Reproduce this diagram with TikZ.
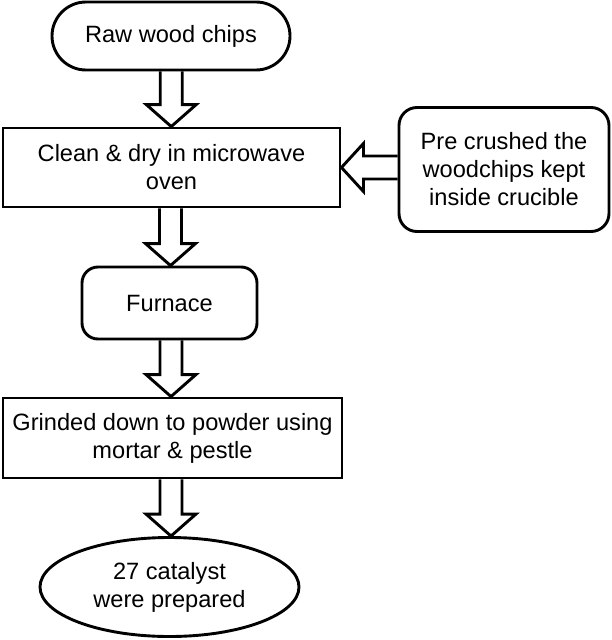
\documentclass[tikz,border=0pt]{standalone}
\usepackage{fontspec}
\setmainfont{Liberation Sans}
\usetikzlibrary{positioning,calc,shapes}

% hollow block arrow pointing down from #1 to #2
\newcommand{\fatdown}[2]{%
  \draw[hollow] let \p1=(#1.south), \p2=(#2.north), \p3=($(#1.south)!0.5!(#2.north)$) in
    (\x3-11pt,\y1) -- (\x3-11pt,\y2+22pt) -- (\x3-25pt,\y2+22pt) -- (\x3,\y2)
    -- (\x3+25pt,\y2+22pt) -- (\x3+11pt,\y2+22pt) -- (\x3+11pt,\y1);}

\begin{document}
\begin{tikzpicture}[x=1pt,y=-1pt,
  every node/.style={font=\fontsize{23.6}{28}\selectfont, line width=2.9pt, align=center},
  box/.style={draw, rectangle, inner sep=0pt},
  startbox/.style={draw, rectangle, rounded corners=34pt, minimum width=238pt, minimum height=68pt},
  roundbox/.style={draw, rectangle, rounded corners=16pt, inner sep=0pt},
  endbox/.style={draw, ellipse, minimum width=259pt, minimum height=99pt, inner sep=0pt},
  hollow/.style={line width=2.9pt, line join=miter}]
\useasboundingbox (0,0) rectangle (611,640);

% Process steps
\node[startbox] (chips) at (171,36) {Raw wood chips};
\node[box, minimum width=337pt, minimum height=79pt] (clean) at (171.5,167.5) {Clean \& dry in microwave\\oven};
\node[roundbox, minimum width=210pt, minimum height=124pt, rounded corners=18pt] (crush) at (504,169.5) {Pre crushed the\\woodchips kept\\inside crucible};
\node[roundbox, minimum width=175pt, minimum height=72pt] (furnace) at (169.5,303) {Furnace};
\node[box, minimum width=339pt, minimum height=80pt] (grind) at (172.5,438) {Grinded down to powder using\\mortar \& pestle};
\node[endbox] (catalyst) at (169.5,587) {27 catalyst\\were prepared};

% Down arrows
\fatdown{chips}{clean}
\fatdown{clean}{furnace}
\fatdown{furnace}{grind}
\fatdown{grind}{catalyst}

% Side arrow into cleaning step
\draw[hollow] let \p1=(crush.west), \p2=(clean.east) in
  (\x1,\y2+11.5pt) -- (\x2+22pt,\y2+11.5pt) -- (\x2+22pt,\y2+24pt) -- (\x2,\y2)
  -- (\x2+22pt,\y2-24pt) -- (\x2+22pt,\y2-11.5pt) -- (\x1,\y2-11.5pt);
\end{tikzpicture}
\end{document}
